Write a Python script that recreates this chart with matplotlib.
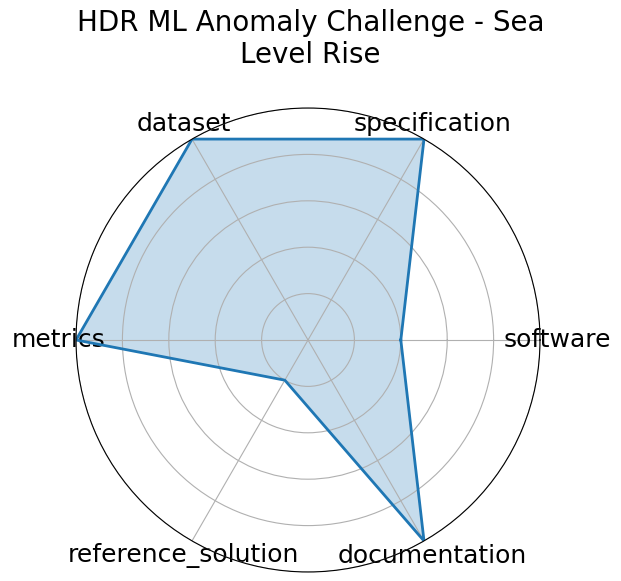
import numpy as np
import matplotlib.pyplot as plt

categories = ['software', 'specification', 'dataset', 'metrics',
              'reference_solution', 'documentation']
values = [0.4, 1.0, 1.0, 1.0, 0.2, 1.0]

angles = np.linspace(0, 2 * np.pi, len(categories), endpoint=False)
closed_angles = np.concatenate([angles, angles[:1]])
closed_values = values + values[:1]

fig = plt.figure(figsize=(6.21, 5.81), dpi=100)
ax = fig.add_axes([0.1224, 0.0155, 0.7472, 0.7986], polar=True)

ax.plot(closed_angles, closed_values, color='tab:blue', linewidth=2)
ax.fill(closed_angles, closed_values, color='tab:blue', alpha=0.25)

ax.set_ylim(0, 1)
ax.set_yticks([0.2, 0.4, 0.6, 0.8, 1.0])
ax.set_yticklabels([])
ax.set_xticks(angles)
ax.set_xticklabels(categories, fontsize=18)
ax.tick_params(axis='x', pad=2)

fig.suptitle('HDR ML Anomaly Challenge - Sea\nLevel Rise', fontsize=20, y=0.985)

fig.savefig('out.png', dpi=100)
